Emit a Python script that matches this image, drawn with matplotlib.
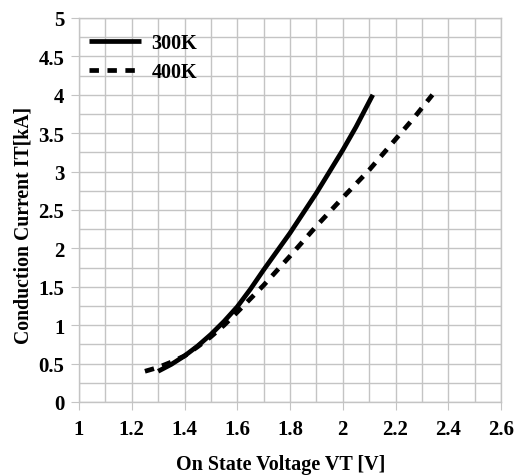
import numpy as np
import matplotlib.pyplot as plt
from matplotlib.ticker import MultipleLocator

# values
v_300 = [1.30, 1.35, 1.40, 1.45, 1.50, 1.55, 1.60, 1.65, 1.70, 1.75, 1.80, 1.85, 1.90, 1.95, 2.00, 2.05, 2.114]
i_300 = [0.40, 0.49, 0.60, 0.73, 0.88, 1.05, 1.24, 1.47, 1.72, 1.96, 2.20, 2.46, 2.72, 3.00, 3.28, 3.58, 4.00]
v_400 = [1.25, 1.30, 1.35, 1.40, 1.45, 1.50, 1.55, 1.60, 1.70, 1.80, 1.90, 2.00, 2.10, 2.20, 2.27, 2.34]
i_400 = [0.40, 0.45, 0.52, 0.60, 0.72, 0.85, 1.00, 1.17, 1.52, 1.90, 2.29, 2.66, 3.02, 3.42, 3.70, 4.00]
labels = ['300K', '400K']

plt.rcParams['font.family'] = ['Liberation Serif', 'DejaVu Serif']
plt.rcParams['font.weight'] = 'bold'

grid_c = '#c4c4c4'

fig = plt.figure(figsize=(5.18, 4.77), dpi=100)
ax = fig.add_axes([79 / 518, 1 - 403 / 477, (501 - 79) / 518, (403 - 19) / 477])

ax.plot(v_300, i_300, color='black', linewidth=3.4, solid_capstyle='butt', label=labels[0])
ax.plot(v_400, i_400, color='black', linewidth=3.4, linestyle=(0, (2.0, 1.8)), label=labels[1])

ax.set_xlim(1, 2.6)
ax.set_ylim(0, 5)
ax.xaxis.set_major_locator(MultipleLocator(0.2))
ax.xaxis.set_minor_locator(MultipleLocator(0.1))
ax.yaxis.set_major_locator(MultipleLocator(0.5))
ax.yaxis.set_minor_locator(MultipleLocator(0.25))
ax.xaxis.set_major_formatter(lambda v, p: f'{v:g}')
ax.yaxis.set_major_formatter(lambda v, p: f'{v:g}')

ax.grid(True, which='both', color=grid_c, linewidth=1)
ax.set_axisbelow(True)
for s in ax.spines.values():
    s.set_color(grid_c)
    s.set_linewidth(1)
ax.tick_params(which='major', length=6, color=grid_c, labelsize=15)
ax.tick_params(axis='x', pad=6)
ax.tick_params(axis='y', pad=4.5)
ax.tick_params(which='minor', length=0)

ax.set_xlabel('On State Voltage VT [V]', fontsize=14.5, fontweight='bold')
ax.set_ylabel('Conduction Current IT[kA]', fontsize=14.2, fontweight='bold')
ax.xaxis.set_label_coords(0.479, -0.135)
ax.yaxis.set_label_coords(-0.109, 0.4635)

ax.legend(loc='upper left', frameon=False, fontsize=14.5, handlelength=2.6,
          handletextpad=0.5, labelspacing=0.45, borderaxespad=0.2,
          bbox_to_anchor=(-0.005, 0.993))

fig.savefig('out.png', dpi=100)
